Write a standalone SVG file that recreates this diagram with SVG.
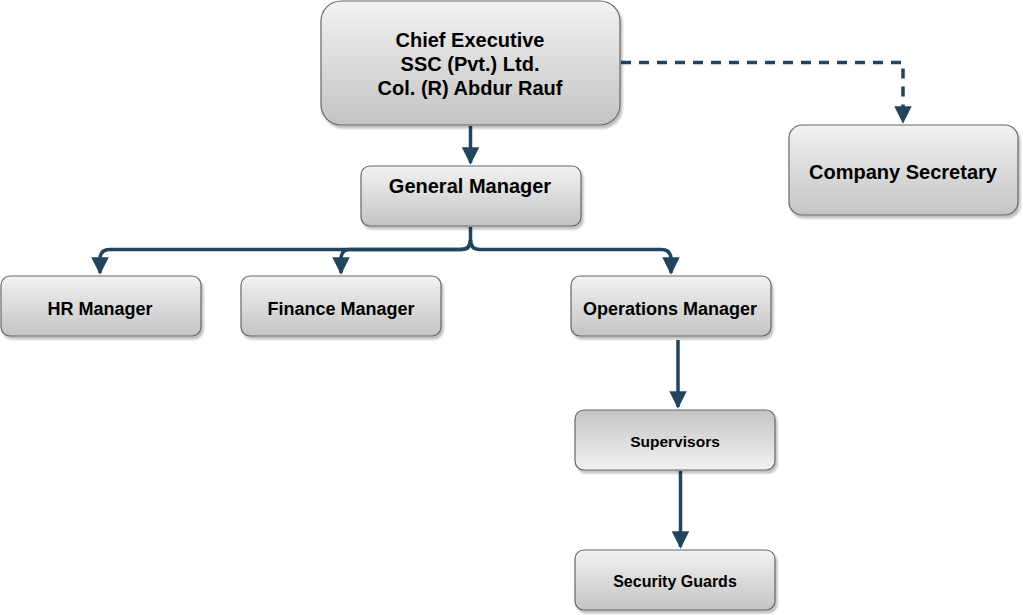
<svg xmlns="http://www.w3.org/2000/svg" width="1023" height="615" viewBox="0 0 1023 615">
<defs>
<linearGradient id="g" x1="0" y1="0" x2="0" y2="1"><stop offset="0" stop-color="#f2f2f2"/><stop offset="1" stop-color="#c4c4c4"/></linearGradient>
<linearGradient id="gr" x1="0" y1="0" x2="0" y2="1"><stop offset="0" stop-color="#c4c4c4"/><stop offset="1" stop-color="#f2f2f2"/></linearGradient>
<filter id="sh" x="-10%" y="-10%" width="125%" height="130%"><feDropShadow dx="2" dy="3" stdDeviation="1.2" flood-color="#000" flood-opacity="0.25"/></filter>
<marker id="ar" viewBox="0 0 10 10" refX="9" refY="5" markerWidth="5" markerHeight="5" orient="auto" markerUnits="strokeWidth"><path d="M0,0 L10,5 L0,10 z" fill="#23445d"/></marker>
<style>
.box{fill:url(#g);stroke:#666;stroke-width:1.2;filter:url(#sh)}
.rbox{fill:url(#gr);stroke:#666;stroke-width:1.2;filter:url(#sh)}
text{font-family:"Liberation Sans",Arial,sans-serif;font-weight:bold;fill:#000;text-anchor:middle}
.c{fill:none;stroke:#23445d;stroke-width:3.5;stroke-linejoin:round}
</style>
</defs>
<g id="connectors">
<path class="c" d="M470.5 126 V163" marker-end="url(#ar)"/>
<path class="c" d="M470.5 227 V240 Q470.5 249.5 461 249.5 H110 Q100 249.5 100 259 V273" marker-end="url(#ar)"/>
<path class="c" d="M470.5 240 Q470.5 249.5 461 249.5 H350 Q341 249.5 341 259 V273" marker-end="url(#ar)"/>
<path class="c" d="M470.5 240 Q470.5 249.5 480 249.5 H661 Q671 249.5 671 259 V273" marker-end="url(#ar)"/>
<path class="c" d="M678 340 V407" marker-end="url(#ar)"/>
<path class="c" d="M680.5 471 V547" marker-end="url(#ar)"/>
<path class="c" d="M621 62.5 H903 V122" stroke-dasharray="10,8" marker-end="url(#ar)"/>
</g>
<g id="ceo"><rect class="box" x="321" y="1" width="299" height="124" rx="20"/>
<text x="470" y="47" font-size="20">Chief Executive</text>
<text x="470" y="71" font-size="20">SSC (Pvt.) Ltd.</text>
<text x="470" y="95" font-size="20">Col. (R) Abdur Rauf</text></g>
<g id="gm"><rect class="box" x="361" y="166" width="220" height="60" rx="9"/>
<text x="470" y="193" font-size="20">General Manager</text></g>
<g id="cs"><rect class="box" x="789" y="125" width="229" height="90" rx="13"/>
<text x="903" y="179" font-size="20">Company Secretary</text></g>
<g id="hr"><rect class="box" x="1" y="276" width="200" height="60" rx="9"/>
<text x="100" y="315" font-size="18">HR Manager</text></g>
<g id="fm"><rect class="box" x="241" y="276" width="200" height="60" rx="9"/>
<text x="341" y="315" font-size="18">Finance Manager</text></g>
<g id="om"><rect class="box" x="571" y="276" width="200" height="60" rx="9"/>
<text x="670" y="315" font-size="18">Operations Manager</text></g>
<g id="sup"><rect class="rbox" x="575" y="410" width="200" height="60" rx="9"/>
<text x="675" y="447" font-size="15.5">Supervisors</text></g>
<g id="sg"><rect class="box" x="575" y="550" width="200" height="60" rx="9"/>
<text x="675" y="587" font-size="16">Security Guards</text></g>
</svg>
